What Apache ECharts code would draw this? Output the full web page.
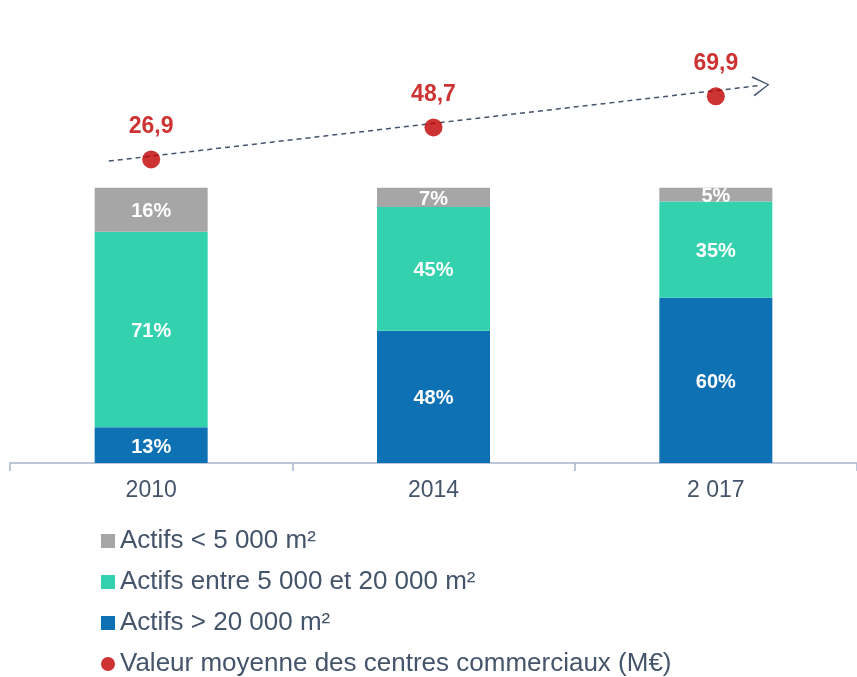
<!DOCTYPE html>
<html>
<head>
<meta charset="utf-8">
<script src="https://cdn.jsdelivr.net/npm/echarts@6/dist/echarts.min.js"></script>
<style>
  html, body { margin: 0; padding: 0; background: #fff; }
  #chart { width: 857px; height: 677px; }
</style>
</head>
<body>
<div id="chart"></div>
<script>
// data
var years = ['2010', '2014', '2 017'];
var smallAssets = [16, 7, 5];     // Actifs < 5 000 m²
var midAssets = [71, 45, 35];     // Actifs entre 5 000 et 20 000 m²
var largeAssets = [13, 48, 60];   // Actifs > 20 000 m²
var avgValue = [26.9, 48.7, 69.9]; // Valeur moyenne (M€)
// dashed trend arrow, [category position, value]
var trendLine = [[-0.15, 25.8], [2.16, 77.4]];

var textColor = '#44546A';
var font = 'Arial, "Liberation Sans", sans-serif';

var chart = echarts.init(document.getElementById('chart'));

var barLabel = {
    show: true,
    position: 'inside',
    offset: [0, 2],
    color: '#fff',
    fontWeight: 'bold',
    fontSize: 20,
    fontFamily: font,
    formatter: function (p) { return p.value + '%'; }
};

var option = {
    animation: false,
    grid: { left: 10, right: 0, top: 50, bottom: 214 },
    legend: {
        orient: 'vertical',
        left: 101,
        top: 528,
        padding: 0,
        itemWidth: 14,
        itemHeight: 14,
        itemGap: 15,
        textStyle: { color: textColor, fontSize: 26, fontFamily: font, lineHeight: 26 },
        data: [
            { name: 'Actifs < 5 000 m²', icon: 'rect' },
            { name: 'Actifs entre 5 000 et 20 000 m²', icon: 'rect' },
            { name: 'Actifs > 20 000 m²', icon: 'rect' },
            { name: 'Valeur moyenne des centres commerciaux (M€)', icon: 'circle' }
        ]
    },
    xAxis: [
        {
            type: 'category',
            data: years,
            axisLine: { lineStyle: { color: '#A7B7CE', width: 1.5 } },
            axisTick: { show: true, length: 8, lineStyle: { color: '#A7B7CE', width: 1.5 } },
            axisLabel: { color: textColor, fontSize: 23, fontFamily: font, margin: 16 }
        },
        {
            type: 'value',
            min: -0.5,
            max: 2.5,
            show: false
        }
    ],
    yAxis: [
        { type: 'value', min: 0, max: 150, show: false },
        { type: 'value', min: -180, max: 101.5, show: false }
    ],
    series: [
        {
            name: 'Actifs > 20 000 m²',
            type: 'bar',
            stack: 'share',
            barWidth: 113,
            data: largeAssets,
            itemStyle: { color: '#0E71B4' },
            label: barLabel
        },
        {
            name: 'Actifs entre 5 000 et 20 000 m²',
            type: 'bar',
            stack: 'share',
            data: midAssets,
            itemStyle: { color: '#33D1AE' },
            label: barLabel
        },
        {
            name: 'Actifs < 5 000 m²',
            type: 'bar',
            stack: 'share',
            data: smallAssets,
            itemStyle: { color: '#A6A6A6' },
            label: barLabel
        },
        {
            name: 'trend',
            type: 'line',
            xAxisIndex: 1,
            yAxisIndex: 1,
            data: [],
            silent: true,
            markLine: {
                silent: true,
                symbol: ['none', 'path://M10,0 L20,16 L18.6,17 L10,2.2 L1.4,17 L0,16 Z'],
                symbolSize: [20, 17],
                label: { show: false },
                lineStyle: { color: '#44546A', width: 1.5, type: [5, 4] },
                data: [[
                    { coord: trendLine[0] },
                    { coord: trendLine[1] }
                ]]
            }
        },
        {
            name: 'Valeur moyenne des centres commerciaux (M€)',
            type: 'scatter',
            yAxisIndex: 1,
            symbol: 'circle',
            symbolSize: 18,
            data: avgValue,
            itemStyle: { color: '#C00000' },
            z: 5,
            label: {
                show: true,
                position: 'top',
                distance: 12,
                color: '#C00000',
                fontWeight: 'bold',
                fontSize: 23,
                fontFamily: font,
                formatter: function (p) { return String(p.value).replace('.', ','); }
            }
        }
    ]
};

chart.setOption(option);
</script>
</body>
</html>
